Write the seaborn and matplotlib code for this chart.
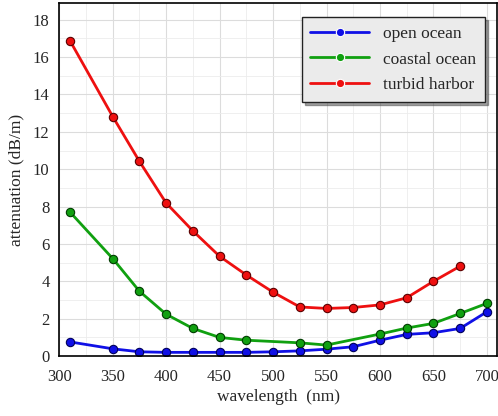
import pandas as pd
import seaborn as sns
import matplotlib.pyplot as plt
from matplotlib.ticker import MultipleLocator

# data
wl_open = [310, 350, 375, 400, 425, 450, 475, 500, 525, 550, 575, 600, 625, 650, 675, 700]
att_open = [0.76, 0.39, 0.23, 0.2, 0.2, 0.2, 0.2, 0.23, 0.28, 0.37, 0.5, 0.85, 1.16, 1.25, 1.48, 2.37]

wl_coastal = [310, 350, 375, 400, 425, 450, 475, 525, 550, 600, 625, 650, 675, 700]
att_coastal = [7.71, 5.22, 3.47, 2.24, 1.48, 1.0, 0.85, 0.71, 0.59, 1.18, 1.5, 1.75, 2.28, 2.82]

wl_turbid = [310, 350, 375, 400, 425, 450, 475, 500, 525, 550, 575, 600, 625, 650, 675]
att_turbid = [16.88, 12.82, 10.42, 8.19, 6.7, 5.34, 4.34, 3.42, 2.63, 2.55, 2.6, 2.74, 3.12, 4.0, 4.81]

series = ['open ocean', 'coastal ocean', 'turbid harbor']
colors = ['#1010e6', '#10a010', '#ee1010']

frames = []
for name, wl, att in zip(series, [wl_open, wl_coastal, wl_turbid],
                         [att_open, att_coastal, att_turbid]):
    frames.append(pd.DataFrame({'wavelength': wl, 'attenuation': att, 'water': name}))
df = pd.concat(frames, ignore_index=True)

sns.set_style('white')
plt.rcParams['font.family'] = ['Liberation Serif', 'DejaVu Serif']

fig = plt.figure(figsize=(4.98, 4.16), dpi=100)
ax = fig.add_axes([0.119, 0.144, 0.879, 0.849])

sns.lineplot(data=df, x='wavelength', y='attenuation', hue='water',
             hue_order=series, palette=colors, marker='o', markersize=6,
             markeredgewidth=0.8, linewidth=2, ax=ax)
# darker marker edges per series
for line, c in zip(ax.get_lines(), ['#00005a', '#003c00', '#5a0000']):
    line.set_markeredgecolor(c)

ax.set_xlim(300, 709.5)
ax.set_ylim(0, 18.9)
ax.xaxis.set_major_locator(MultipleLocator(50))
ax.xaxis.set_minor_locator(MultipleLocator(25))
ax.yaxis.set_major_locator(MultipleLocator(2))
ax.yaxis.set_minor_locator(MultipleLocator(1))
ax.grid(which='major', color='#dcdcdc', linewidth=0.8)
ax.grid(which='minor', color='#ececec', linewidth=0.6)
ax.set_axisbelow(True)
for sp in ax.spines.values():
    sp.set_color('black')
    sp.set_linewidth(1.2)

ax.tick_params(labelsize=12, length=0)
ax.tick_params(axis='x', pad=9)
ax.tick_params(axis='y', pad=7)
ax.set_xlabel('wavelength  (nm)', fontsize=12.5, labelpad=3)
ax.set_ylabel('attenuation (dB/m)', fontsize=12.5, labelpad=6)

leg = ax.legend(loc='upper right', fontsize=12.5, frameon=True, fancybox=False,
                shadow=True, handlelength=3.4, borderpad=0.5, borderaxespad=0,
                labelspacing=0.55, bbox_to_anchor=(0.973, 0.960))
leg.get_frame().set_facecolor('#ebebeb')
leg.get_frame().set_edgecolor('#222222')
leg.get_frame().set_alpha(1)
leg.set_title(None)

fig.savefig('out.png', dpi=100)
